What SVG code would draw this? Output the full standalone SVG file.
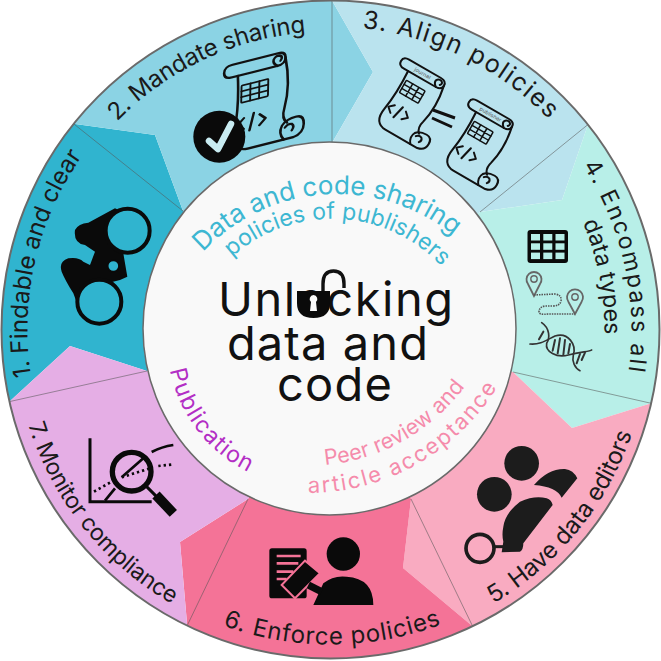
<svg xmlns="http://www.w3.org/2000/svg" width="661" height="661" viewBox="0 0 661 661">
<style>
text{font-family:"Inter","Liberation Sans",sans-serif}
.lab{font-size:24px;fill:#1a1a1a}
.ttl{font-size:47px;fill:#111;text-anchor:middle;font-weight:400}
.ln{fill:none;stroke:#111;stroke-width:2.6;stroke-linecap:round;stroke-linejoin:round}
.bk{fill:#0a0a0a}
.tiny{font-size:7px;fill:#555;text-anchor:middle}
.div{stroke:#555;stroke-opacity:.55;stroke-width:1;fill:none}
</style>
<defs>
<path id="p1" d="M31.1 376.4A303 303 0 0 1 135.7 97.4"/>
<path id="p2" d="M117.2 121.4A298 298 0 0 1 382.2 36"/>
<path id="p3" d="M362.2 28.2A303 303 0 0 1 592.9 178"/>
<path id="p4a" d="M582.9 165.6A301 301 0 0 1 613.4 432.4"/>
<path id="p4b" d="M582.7 222.4A274 274 0 0 1 588 423.2"/>
<path id="p5" d="M493.4 603.8A319 319 0 0 0 648.3 357.3"/>
<path id="p6" d="M222.8 625.5A315 315 0 0 0 511.2 587.5"/>
<path id="p7" d="M28.2 424.8A317 317 0 0 0 248.5 635.7"/>
<path id="c1" d="M203 252A184 184 0 0 1 496.3 286"/>
<path id="c2" d="M232 257A150 150 0 0 1 482 370"/>
<path id="c3" d="M170 370A145 145 0 0 0 312 487"/>
<path id="c4" d="M325 465A195 195 0 0 0 491.2 337.7"/>
<path id="c5" d="M308 493A222 222 0 0 0 516.6 347"/>
<g id="scroll">
<path class="ln" d="M-24 -34Q-32 -34 -32 -41Q-32 -48 -24 -48L22 -48Q30 -48 30 -41Q30 -34 22 -34Z"/>
<path class="ln" d="M22 -34Q17 -38 18 -42Q20 -46 24 -45Q28 -43 25 -39"/>
<path class="ln" d="M-18 -34Q-16 0 -20 25Q-22 38 -18 44Q-14 50 -6 50L30 50"/>
<path class="ln" d="M30 -41Q36 -10 30 15Q27 26 33 32"/>
<path class="ln" d="M30 50Q24 42 28 34Q32 28 42 28Q50 28 50 38Q50 48 40 50L30 50"/>
<path class="ln" d="M31 37Q34 33 38 35Q41 38 38 42"/>
<g class="ln" style="stroke-width:1.9"><rect x="-14" y="-22" width="27" height="19" rx="1"/><path d="M-5 -22V-3M4 -22V-3M-14 -15.7H13M-14 -9.3H13"/></g>
<path class="ln" d="M-11 15L-17 21L-11 27M5 15L11 21L5 27M-1 12L-5 30"/>
</g>
</defs>
<g id="step-1">
<path fill="#30b4cf" d="M9.5 401.6A329 329 0 0 1 73.5 123.7L155 135L183 211L329.5 328.5L147 371L70 346Z"/>
<g transform="translate(40 190) scale(.3333)">
<path class="bk" d="M105 120Q115 100 145 98L225 55L320 100L250 190L262 260L240 270L160 290L115 350L100 310Q75 270 65 245Q55 215 85 205Q115 200 130 215L150 225L165 185L135 165Q100 160 105 120Z"/>
<circle cx="263" cy="122" r="66" fill="#30b4cf" stroke="#0a0a0a" stroke-width="12"/>
<circle cx="178" cy="335" r="66" fill="#30b4cf" stroke="#0a0a0a" stroke-width="12"/>
<circle cx="220" cy="228" r="17" fill="#30b4cf" stroke="#0a0a0a" stroke-width="5"/>
</g>
<text class="lab"><textPath href="#p1" textLength="232">1. Findable and clear</textPath></text>
</g>
<g id="step-2">
<path fill="#8bd3e4" d="M73.5 123.7A329 329 0 0 1 332 .5L373 72L332 143L329.5 328.5L183 211L155 135Z"/>
<use href="#scroll" transform="matrix(.99 -.25 -.02 .9 255 102)"/>
<circle class="bk" cx="219.3" cy="136.7" r="26"/>
<path d="M209 141L218 149L231 124" fill="none" stroke="#c9ecf2" stroke-width="6.5" stroke-linecap="round" stroke-linejoin="round"/>
<text class="lab"><textPath href="#p2" textLength="213">2. Mandate sharing</textPath></text>
</g>
<g id="step-3">
<path fill="#bae3ee" d="M332 .5A329 329 0 0 1 588 124.5L562 200L480 212L329.5 328.5L332 143L373 72Z"/>
<use href="#scroll" transform="translate(408 100) rotate(30) scale(.8 .74)"/>
<text class="tiny" transform="translate(408 100) rotate(30) scale(.8 .74)" x="-1" y="-38.5">journal</text>
<path d="M433 110L455 118M432 118L452 127" stroke="#111" stroke-width="3" fill="none"/>
<use href="#scroll" transform="translate(476 141) rotate(30) scale(.8 .74)"/>
<text class="tiny" transform="translate(476 141) rotate(30) scale(.8 .74)" x="-1" y="-38.5">publisher</text>
<text class="lab" style="font-size:25px"><textPath href="#p3" textLength="212">3. Align policies</textPath></text>
</g>
<g id="step-4">
<path fill="#b8efe8" d="M588 124.5A329 329 0 0 1 651.2 403.3L572 428L513 372L329.5 328.5L480 212L562 200Z"/>
<rect class="bk" x="527.5" y="230" width="40.5" height="33" rx="3"/>
<g fill="#b8efe8"><rect x="531" y="234" width="9" height="6.5"/><rect x="543.3" y="234" width="9" height="6.5"/><rect x="555.5" y="234" width="9" height="6.5"/><rect x="531" y="243.3" width="9" height="6.5"/><rect x="543.3" y="243.3" width="9" height="6.5"/><rect x="555.5" y="243.3" width="9" height="6.5"/><rect x="531" y="252.6" width="9" height="6.5"/><rect x="543.3" y="252.6" width="9" height="6.5"/><rect x="555.5" y="252.6" width="9" height="6.5"/></g>
<path d="M534 296L528 284A7.5 7.5 0 1 1 540 284Z" fill="none" stroke="#666" stroke-width="1.8"/><circle cx="534" cy="279" r="3.2" fill="none" stroke="#666" stroke-width="1.4"/>
<path d="M575 314L568.5 302A8 8 0 1 1 581.5 302Z" fill="none" stroke="#666" stroke-width="1.8"/><circle cx="575" cy="297" r="3.2" fill="none" stroke="#666" stroke-width="1.4"/>
<path d="M534 295L555 294Q562 295 561 301Q560 306 553 306L545 306Q539 307 539 312Q539 315 548 314L575 314" fill="none" stroke="#555" stroke-width="1.6" stroke-dasharray="1.5 1"/>
<g transform="translate(515 220) scale(.3333)" fill="none" stroke="#333" stroke-width="5" stroke-linecap="round">
<path d="M80 308C105 325 105 355 95 370C90 395 125 415 160 405C200 395 225 395 230 390"/>
<path d="M45 372C75 375 95 360 120 348C160 335 185 375 175 405C170 425 180 445 195 452"/>
<path stroke-width="6" d="M85 335L72 358M120 360L113 392M135 355L128 400M150 360L145 405M165 372L160 400M195 402L185 430M210 398L200 420"/>
</g>
<text class="lab" style="font-size:23px"><textPath href="#p4a" textLength="215">4. Encompass all</textPath></text>
<text class="lab" style="font-size:23px"><textPath href="#p4b" textLength="115">data types</textPath></text>
</g>
<g id="step-5">
<path fill="#f9abc1" d="M651.2 403.3A329 329 0 0 1 472.6 626.2L403 568L411 499L329.5 328.5L513 372L572 428Z"/>
<g transform="translate(460 435) scale(.3333)" fill="#1c1c1c">
<circle cx="185" cy="85" r="52"/><circle cx="103" cy="178" r="52"/>
<path d="M222 150Q265 100 315 102Q340 105 352 130L305 188Q290 155 222 150Z"/>
<path d="M130 275Q135 235 180 200Q225 180 260 190Q275 195 278 210L190 325Q190 345 180 350L125 352L130 320Q125 300 130 275Z"/>
<circle cx="60" cy="340" r="42" fill="none" stroke="#1c1c1c" stroke-width="11"/>
<path d="M100 335L135 335" stroke="#1c1c1c" stroke-width="9"/>
</g>
<text class="lab"><textPath href="#p5" textLength="224">5. Have data editors</textPath></text>
</g>
<g id="step-6">
<path fill="#f47397" d="M472.6 626.2A329 329 0 0 1 187.2 625.6L180 542L248 499L329.5 328.5L411 499L403 568Z"/>
<g transform="translate(260 530) scale(.3333)">
<circle class="bk" cx="250" cy="72" r="50"/>
<path class="bk" d="M160 225L190 160Q220 135 260 140Q340 145 340 225Z"/>
<rect class="bk" x="28" y="55" width="112" height="150" rx="8"/>
<path d="M50 78H122M50 100H115M50 125H100M50 147H80" stroke="#f47397" stroke-width="8" fill="none"/>
<path class="bk" d="M65 165L135 92L180 130L105 205Z" stroke="#f47397" stroke-width="6"/>
<path d="M145 165L185 185" stroke="#0a0a0a" stroke-width="22"/>
</g>
<text class="lab"><textPath href="#p6" textLength="223">6. Enforce policies</textPath></text>
</g>
<g id="step-7">
<path fill="#e5aee5" d="M187.2 625.6A329 329 0 0 1 9.5 401.6L70 346L147 371L329.5 328.5L248 499L180 542Z"/>
<g transform="translate(80 430) scale(.3333)" fill="none" stroke="#0a0a0a">
<path stroke-width="9" d="M30 25V215H215"/>
<path stroke-width="8" d="M75 212L105 175M125 142L190 85M215 66Q245 50 280 45"/>
<path stroke-width="8" stroke-dasharray="7 9" d="M42 185L95 155M125 142L210 115M235 108L280 103"/>
<circle cx="155" cy="125" r="58" stroke-width="16"/>
<path stroke-width="9" d="M200 170L235 205"/>
<path stroke-width="30" d="M228 195L280 250"/>
</g>
<text class="lab" style="font-size:23px"><textPath href="#p7" textLength="235">7. Monitor compliance</textPath></text>
</g>
<g id="connectors" class="div">
<path d="M73.5 123.7L183 211"/>
<path d="M332 .5V143"/>
<path d="M588 124.5L480 212"/>
<path d="M651.2 403.3L513 372"/>
<path d="M472.6 626.2L411 499"/>
<path d="M187.2 625.6L248 499"/>
<path d="M9.5 401.6L147 371"/>
</g>
<g id="hub">
<circle cx="330.5" cy="329.5" r="329" fill="none" stroke="#6a6a6a" stroke-width="2"/>
<circle cx="329.5" cy="328.5" r="186.5" fill="#f9f9f9" stroke="#6a6a6a" stroke-width="1.5"/>
<text fill="#3db7d2" style="font-size:26px"><textPath href="#c1" textLength="276">Data and code sharing</textPath></text>
<text fill="#3db7d2" style="font-size:23px"><textPath href="#c2" textLength="232">policies of publishers</textPath></text>
<text fill="#b32ec5" style="font-size:23px"><textPath href="#c3" textLength="133">Publication</textPath></text>
<text fill="#f58bab" style="font-size:21.5px"><textPath href="#c4" textLength="165">Peer review and</textPath></text>
<text fill="#f58bab" style="font-size:22px"><textPath href="#c5" textLength="226">article acceptance</textPath></text>
<text class="ttl" x="335.5" y="316" textLength="235">Unlocking</text>
<text class="ttl" x="327.5" y="360" textLength="201">data and</text>
<text class="ttl" x="334.5" y="401" textLength="115">code</text>
<g id="lock">
<path d="M323 291V284Q323 271 333.5 271Q344 271 344 284V288" fill="none" stroke="#111" stroke-width="3.4"/>
<path class="bk" d="M297 291H330V303Q330 318 313.5 318Q297 318 297 303Z"/>
<path d="M313.5 295A4 4 0 0 1 316 302L317 311H310L311 302A4 4 0 0 1 313.5 295Z" fill="#f9f9f9"/>
</g>
</g>
</svg>
